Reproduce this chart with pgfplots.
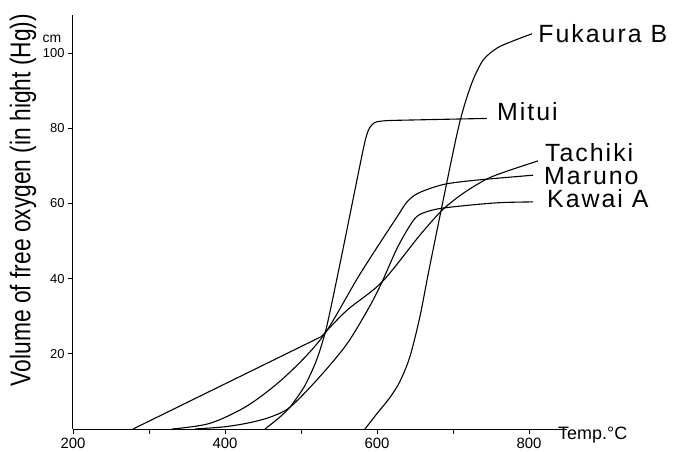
\documentclass[border=0pt]{standalone}
\usepackage{pgfplots}
\pgfplotsset{compat=1.18}
\usepackage{fontspec}
\usepackage{graphicx}
\setmainfont{Liberation Sans}
\newfontfamily\labfont[LetterSpace=8]{Liberation Sans}
\begin{document}
\begin{tikzpicture}
\begin{axis}[
  scale only axis, width=494bp, height=413.6bp,
  xmin=200, xmax=850, ymin=0, ymax=110,
  axis lines*=left,
  axis line style={line width=1bp, black},
  tick align=outside, major tick length=5bp,
  tick style={line width=0.8bp, black},
  xtick={200,300,...,800}, xticklabels={200,,400,,600,,800},
  ytick={20,40,...,100},
  /pgf/number format/assume math mode=true,
  xticklabel style={font=\fontsize{15}{17}\selectfont, yshift=-1bp},
  yticklabel style={font=\fontsize{13}{15}\selectfont},
  clip=false,
  every axis plot/.append style={line width=1.1bp, black, no marks},
]
\coordinate (O) at (axis cs:200,0);
% Fukaura B
\addplot[black, smooth, tension=0.5] coordinates {(584.2,0) (599.6,4.0) (617.1,8.4) (630.3,12.7) (643.4,19.3) (656.6,30.0) (669.7,43.6) (702.6,76.0) (714,85.4) (726.3,92.8) (740,98.2) (757.9,101.3) (778.9,103.2) (803.9,105.1)};
% Mitui
\addplot[black, smooth, tension=0.4] coordinates {(452.6,0) (470,2.8) (485.5,5.8) (505,11.5) (521,18.6) (534,27.4) (554,46.6) (582,74.5) (589,79.6) (597,81.5) (612,82.0) (650,82.2) (744.7,82.6)};
% Tachiki
\addplot[black] coordinates {(279,0) (527,24.6)};
\addplot[black, smooth, tension=0.5] coordinates {(527,24.6) (560,31.5) (606.6,39.1) (656.6,51.6) (686.8,58.4) (715,62.9) (744.7,66.5) (770,68.5) (811.8,71.3)};
% Maruno
\addplot[black, smooth, tension=0.5] coordinates {(330.3,0) (380,1.5) (429.6,6.2) (479,13.9) (529,24.7) (577.6,41.2) (626.3,56.4) (640,60.5) (655,62.8) (686.8,65.0) (726.3,66.1) (805.3,67.5)};
% Kawai A
\addplot[black, smooth, tension=0.5] coordinates {(360.5,0) (400,0.6) (432.9,1.7) (460,3.2) (485.5,5.8) (522,13.3) (560,22.5) (590,32.5) (606.6,39.1) (626,47.9) (643,54.0) (655,56.9) (679,58.5) (720,59.5) (761.8,60.2) (805.3,60.4)};
% labels
\node[anchor=west, inner sep=0pt, font=\labfont\fontsize{25}{28}\selectfont] at (axis cs:812,105.1) {Fukaura B};
\node[anchor=west, inner sep=0pt, font=\labfont\fontsize{25}{28}\selectfont] at (axis cs:757.9,84.4) {Mitui};
\node[anchor=west, inner sep=0pt, font=\labfont\fontsize{25}{28}\selectfont] at (axis cs:821,73.4) {Tachiki};
\node[anchor=west, inner sep=0pt, font=\labfont\fontsize{25}{28}\selectfont] at (axis cs:819.7,67.3) {Maruno};
\node[anchor=west, inner sep=0pt, font=\labfont\fontsize{25}{28}\selectfont] at (axis cs:823.7,61.4) {Kawai A};
\node[inner sep=0pt, font=\fontsize{14}{16}\selectfont] at (axis cs:172.4,103.7) {cm};
\node[anchor=west, inner sep=0pt, font=\fontsize{18}{20}\selectfont] at (axis cs:838.2,-1.5) {Temp.°C};
\node[inner sep=0pt, rotate=90] at (axis cs:134.2,60.9) {\resizebox{372bp}{!}{\scalebox{1}[1.25]{Volume of free oxygen (in hight (Hg))}}};
\end{axis}
\pgfresetboundingbox
\path[use as bounding box] ([shift={(-73bp,-23bp)}]O) rectangle ([shift={(608bp,429bp)}]O);
\end{tikzpicture}
\end{document}
